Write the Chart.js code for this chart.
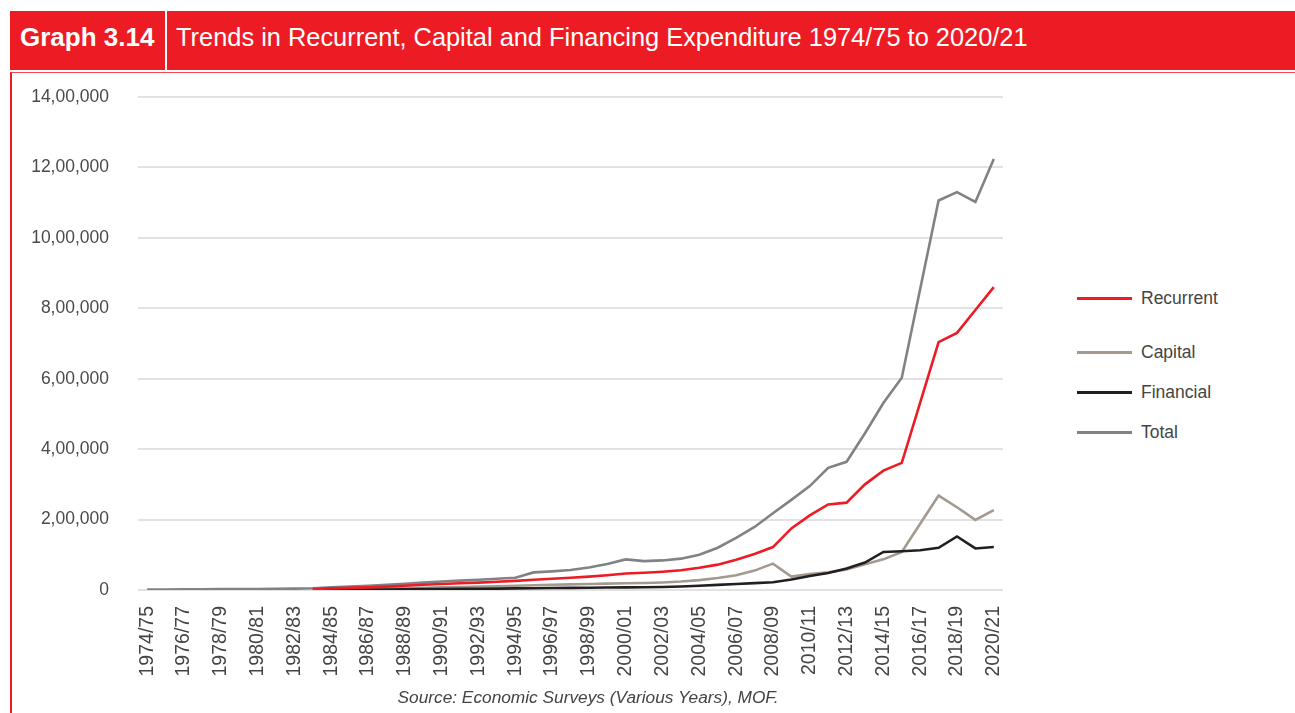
<!DOCTYPE html>
<html>
<head>
<meta charset="utf-8">
<script src="https://cdn.jsdelivr.net/npm/chart.js@4.4.1/dist/chart.umd.min.js"></script>
<style>
  html, body { margin: 0; padding: 0; background: #ffffff; }
  body { width: 1295px; height: 713px; position: relative; overflow: hidden; font-family: "Liberation Sans", Arial, sans-serif; }
  #header { position: absolute; left: 10px; top: 11px; width: 1285px; height: 59px; background: #ED1C24; }
  #gnum { position: absolute; left: 20px; top: 24px; font-size: 26px; line-height: 26px; font-weight: bold; color: #fff; white-space: nowrap; }
  #divider { position: absolute; left: 165px; top: 11px; width: 2px; height: 59px; background: #fff; }
  #gtitle { position: absolute; left: 176px; top: 25px; font-size: 25.4px; line-height: 25px; color: #fff; white-space: nowrap; }
  #box { position: absolute; left: 10px; top: 72px; width: 1300px; height: 700px; border-left: 2px solid #ED1C24; border-top: 1px solid #EF4A50; }
  #chartwrap { position: absolute; left: 0; top: 80px; width: 1020px; height: 633px; }
  #source { position: absolute; left: 0; width: 1176px; top: 687px; text-align: center; font-style: italic; font-size: 17.3px; color: #444; white-space: nowrap; }
  .lg { position: absolute; left: 1077px; height: 22px; }
  .lg .sw { position: absolute; left: 0; top: 10px; width: 55px; height: 3px; }
  .lg .tx { position: absolute; left: 64px; top: 0; font-size: 17.5px; line-height: 22px; color: #444; white-space: nowrap; }
</style>
</head>
<body>
<div id="header"></div>
<div id="divider"></div>
<div id="gnum">Graph 3.14</div>
<div id="gtitle">Trends in Recurrent, Capital and Financing Expenditure 1974/75 to 2020/21</div>
<div id="box"></div>
<div id="chartwrap"><canvas id="c" width="1020" height="633"></canvas></div>
<div id="legend"></div>
<div id="source">Source: Economic Surveys (Various Years), MOF.</div>
<script>
// ---- Data (Rs. million) ----
const categories = [
  "1974/75","1975/76","1976/77","1977/78","1978/79","1979/80","1980/81","1981/82","1982/83","1983/84",
  "1984/85","1985/86","1986/87","1987/88","1988/89","1989/90","1990/91","1991/92","1992/93","1993/94",
  "1994/95","1995/96","1996/97","1997/98","1998/99","1999/00","2000/01","2001/02","2002/03","2003/04",
  "2004/05","2005/06","2006/07","2007/08","2008/09","2009/10","2010/11","2011/12","2012/13","2013/14",
  "2014/15","2015/16","2016/17","2017/18","2018/19","2019/20","2020/21"
];

const recurrent = [
  null,null,null,null,null,null,null,null,null,3000,
  4500,6000,7500,9500,12000,15000,17000,19000,21000,23500,
  26000,29000,32000,35000,38000,42000,47000,49000,52000,56000,
  63000,72000,86000,102000,122000,175000,212000,243000,248000,300000,
  339000,361000,532000,704000,730000,795000,860000
];

const capital = [
  null,null,null,null,null,null,null,null,null,1500,
  2500,3000,3500,4500,5500,6500,7500,8500,9500,10500,
  12000,13500,15000,16000,17000,18000,19000,20000,21500,24000,
  28000,34000,42000,55000,75000,38000,45000,50000,58000,73000,
  87000,108000,188000,268000,235000,199000,227000
];

const financial = [
  null,null,null,null,null,null,null,null,null,500,
  800,1000,1300,1600,2000,2400,2800,3200,3600,4000,
  4500,5000,5500,6000,6500,7000,7500,8000,8500,10000,
  12000,14500,17000,19500,22000,30000,40000,48000,61000,78000,
  108000,110000,113000,120000,152000,118000,122000
];

const total = [
  1200,1500,1800,2100,2400,2700,3000,3400,3800,5000,
  7500,9500,12000,14500,17500,21000,24000,26500,29000,32000,
  35000,50000,53000,57000,64000,74000,87000,82000,84000,89000,
  100000,120000,148000,179000,218000,256000,295000,347000,364000,445000,
  531000,603000,855000,1106000,1130000,1102000,1224000
];

const yTicks = [0, 200000, 400000, 600000, 800000, 1000000, 1200000, 1400000];

const seriesNames = ["Recurrent", "Capital", "Financial", "Total"];
const seriesColors = ["#ED1C24", "#A39A8F", "#231F20", "#808285"];
const seriesData = [recurrent, capital, financial, total];

// Indian digit grouping: 14,00,000
function fmtIN(v) {
  if (v === 0) return "0";
  const s = String(Math.round(v));
  const last3 = s.slice(-3);
  let rest = s.slice(0, -3);
  if (rest) rest = rest.replace(/\B(?=(\d{2})+(?!\d))/g, ",") + ",";
  return rest + last3;
}

const datasets = seriesNames.map((name, i) => ({
  label: name,
  data: seriesData[i],
  borderColor: seriesColors[i],
  backgroundColor: seriesColors[i],
  borderWidth: 2.6,
  pointRadius: 0,
  pointHoverRadius: 0,
  tension: 0,
  fill: false,
  spanGaps: false,
  order: [1, 3, 2, 4][i]
}));

new Chart(document.getElementById("c"), {
  type: "line",
  data: { labels: categories, datasets: datasets },
  options: {
    responsive: false,
    animation: false,
    devicePixelRatio: 1,
    layout: { padding: { top: 17, right: 17, left: 0, bottom: 0 } },
    plugins: { legend: { display: false }, tooltip: { enabled: false } },
    scales: {
      x: {
        type: "category",
        offset: true,
        grid: { display: false, drawTicks: false },
        border: { display: false },
        afterFit: s => { s.height = 123; s.paddingLeft = 0; s.paddingRight = 0; },
        ticks: {
          autoSkip: false,
          maxRotation: 90,
          minRotation: 90,
          padding: 16,
          color: "#444",
          font: { family: "Liberation Sans", size: 19.5 },
          callback: function (val, idx) { return idx % 2 === 0 ? categories[idx] : ""; }
        }
      },
      y: {
        min: 0,
        max: 1400000,
        afterFit: s => { s.width = 138; s.paddingTop = 0; s.paddingBottom = 0; },
        afterBuildTicks: s => { s.ticks = yTicks.map(v => ({ value: v })); },
        grid: { color: "#E2E2E2", lineWidth: 2, drawTicks: false },
        border: { display: false },
        ticks: {
          padding: 29,
          color: "#4a4a4a",
          font: { family: "Liberation Sans", size: 17.5 },
          callback: v => fmtIN(v)
        }
      }
    }
  }
});

// Legend (uneven vertical spacing as in the original)
const legendY = [287, 341, 381, 421];
const lg = document.getElementById("legend");
seriesNames.forEach((name, i) => {
  const d = document.createElement("div");
  d.className = "lg";
  d.style.top = legendY[i] + "px";
  d.innerHTML = '<div class="sw" style="background:' + seriesColors[i] + '"></div><div class="tx">' + name + '</div>';
  lg.appendChild(d);
});
</script>
</body>
</html>
